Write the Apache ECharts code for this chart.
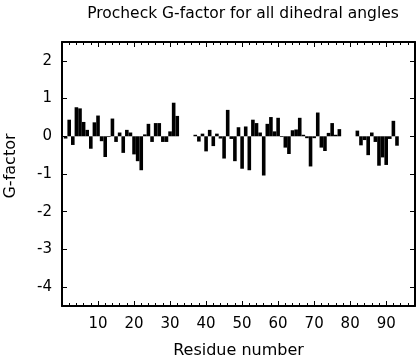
<!DOCTYPE html>
<html>
<head>
<meta charset="utf-8">
<script src="https://cdn.jsdelivr.net/npm/echarts@6/dist/echarts.min.js"></script>
<style>
html,body{margin:0;padding:0;background:#fff;}
#chart{width:416px;height:360px;}
</style>
</head>
<body>
<div id="chart"></div>
<script>
// Residue numbers (x) and their G-factor values (y)
const residueNumbers = [
  1,2,3,4,5,6,7,8,9,10,11,12,13,14,15,16,17,18,19,20,21,22,23,24,25,26,27,28,29,30,31,32,
  37,38,39,40,41,42,43,44,45,46,47,48,49,50,51,52,53,54,55,56,57,58,59,60,61,62,63,64,65,66,67,68,69,70,71,72,73,74,75,76,77,
  82,83,84,85,86,87,88,89,90,91,92,93
];
const gFactors = [
  -0.06,0.44,-0.23,0.77,0.74,0.38,0.17,-0.33,0.37,0.55,-0.13,-0.55,-0.02,0.47,-0.15,0.10,-0.44,0.17,0.10,-0.48,-0.66,-0.90,0.05,0.33,-0.15,0.35,0.35,-0.15,-0.15,0.13,0.89,0.54,
  0.04,-0.14,0.07,-0.40,0.17,-0.26,0.07,-0.06,-0.59,0.70,-0.07,-0.66,0.24,-0.86,0.26,-0.90,0.44,0.35,0.10,-1.04,0.33,0.51,0.13,0.49,-0.02,-0.30,-0.47,0.16,0.18,0.49,0.04,-0.05,-0.80,-0.05,0.63,-0.30,-0.39,0.09,0.35,0.04,0.19,
  0.15,-0.24,-0.10,-0.50,0.10,-0.15,-0.78,-0.56,-0.76,-0.07,0.41,-0.25
];
const yTickValues = [-4,-3,-2,-1,0,1,2];
const xTickLabels = [10,20,30,40,50,60,70,80,90];

const titleText = 'Procheck G-factor for all dihedral angles';
const xName = 'Residue number';
const yName = 'G-factor';

const FONT = '"DejaVu Sans", sans-serif';
const seriesData = residueNumbers.map((r, i) => [r, gFactors[i]]);

const chart = echarts.init(document.getElementById('chart'), null, {renderer: 'canvas'});

const xCommon = {
  type: 'value', min: 0, max: 98, interval: 10,
  axisLine: {show: true, onZero: false, lineStyle: {color: '#000', width: 2}},
  axisTick: {show: true, inside: true, length: 5, lineStyle: {color: '#000', width: 1}},
  minorTick: {show: true, splitNumber: 5, length: 3, lineStyle: {color: '#000', width: 1}},
  splitLine: {show: false}
};
const yCommon = {
  type: 'value', min: -4.5, max: 2.5,
  axisLine: {show: true, onZero: false, lineStyle: {color: '#000', width: 2}},
  axisTick: {show: true, inside: true, length: 5, customValues: yTickValues, lineStyle: {color: '#000', width: 1}},
  splitLine: {show: false}
};

chart.setOption({
  animation: false,
  backgroundColor: '#fff',
  title: {
    text: titleText, left: 238, top: 1, textAlign: 'center',
    textStyle: {fontFamily: FONT, fontSize: 15.5, fontWeight: 'normal', color: '#000'}
  },
  grid: {left: 62, right: 1, top: 42, bottom: 54, containLabel: false, outerBoundsMode: 'none'},
  xAxis: [
    Object.assign({}, xCommon, {
      position: 'bottom',
      name: xName, nameLocation: 'middle', nameGap: 37,
      nameTextStyle: {fontFamily: FONT, fontSize: 16, color: '#000'},
      axisLabel: {
        show: true, margin: 11, fontFamily: FONT, fontSize: 15, color: '#000',
        customValues: xTickLabels
      }
    }),
    Object.assign({}, xCommon, {position: 'top', axisLabel: {show: false}})
  ],
  yAxis: [
    Object.assign({}, yCommon, {
      position: 'left',
      axisLabel: {show: true, margin: 10, fontFamily: FONT, fontSize: 15, color: '#000', customValues: yTickValues}
    }),
    Object.assign({}, yCommon, {position: 'right', axisLabel: {show: false}})
  ],
  graphic: [{
    type: 'text', x: 11, y: 166, rotation: Math.PI / 2,
    style: {text: yName, fontFamily: FONT, fontSize: 16, fill: '#000', textAlign: 'center', textVerticalAlign: 'middle'}
  }],
  series: [{
    type: 'bar', xAxisIndex: 0, yAxisIndex: 0,
    data: seriesData, barWidth: '100%',
    itemStyle: {color: '#000'},
    silent: true
  }]
});
</script>
</body>
</html>
